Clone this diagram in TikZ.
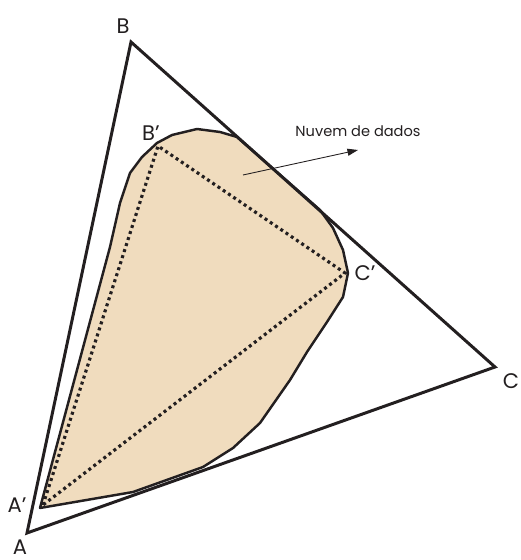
\documentclass[tikz,border=0pt]{standalone}
\usepackage{fontspec}
\setmainfont{Poppins}
\usetikzlibrary{arrows.meta,calc}
\definecolor{ink}{HTML}{231F20}
\definecolor{cloud}{HTML}{F0DCBE}
\tikzset{
  tri/.style={draw=ink, line width=1.7pt, line join=miter},
  blob/.style={draw=ink, fill=cloud, line width=1.4pt, line join=round},
  dots/.style={draw=ink, line width=1.8pt, dash pattern=on 1.7pt off 1.9pt},
  lbl/.style={text=ink, font=\fontsize{12}{14}\selectfont, inner sep=0pt},
  note/.style={text=ink, font=\fontsize{8.3}{10}\selectfont, inner sep=0pt},
  pointer/.style={draw=ink, line width=0.5pt, -{Triangle[length=6pt,width=4pt]}}
}
\begin{document}
\begin{tikzpicture}[x=0.02cm, y=-0.02cm]
\useasboundingbox (0,0) rectangle (520,560);
\coordinate (A) at (27,533);
\coordinate (B) at (131,42);
\coordinate (C) at (495,367);
\coordinate (Ap) at (40,508);
\coordinate (Bp) at (157,143);
\coordinate (Cp) at (348,273);
\draw[blob] (Ap) -- (110,247) -- (120,203) -- (130,173) -- (142,157) -- (Bp)
  -- (172,135) -- (197,129) -- (220,132) -- (237,137) -- (320,210)
  -- (333,228) -- (343,250) -- (Cp) -- (343,297) -- (327,322) -- (307,352)
  -- (290,380) -- (260,423) -- (233,448) -- (203,467) -- (133,492) -- cycle;
\draw[dots] ($(Ap)+(3,-3)$) -- ($(Bp)+(1,3)$) -- ($(Cp)+(-3,0)$) -- cycle;
\draw[tri] (A) -- (B) -- (C) -- cycle;
\node[lbl] (lB) at (123,26) {B};
\node[lbl] (lBp) at (151,133) {B’};
\node[lbl] (lCp) at (365,273) {C’};
\node[lbl] (lC) at (511,381) {C};
\node[lbl] (lAp) at (17,505) {A’};
\node[lbl] (lA) at (20,547) {A};
\node[note] (nuvem) at (358,131) {Nuvem de dados};
\coordinate (ptr) at (243,175);
\coordinate (ptrend) at (358,150);
\draw[pointer] (ptr) -- (ptrend);
\end{tikzpicture}
\end{document}
